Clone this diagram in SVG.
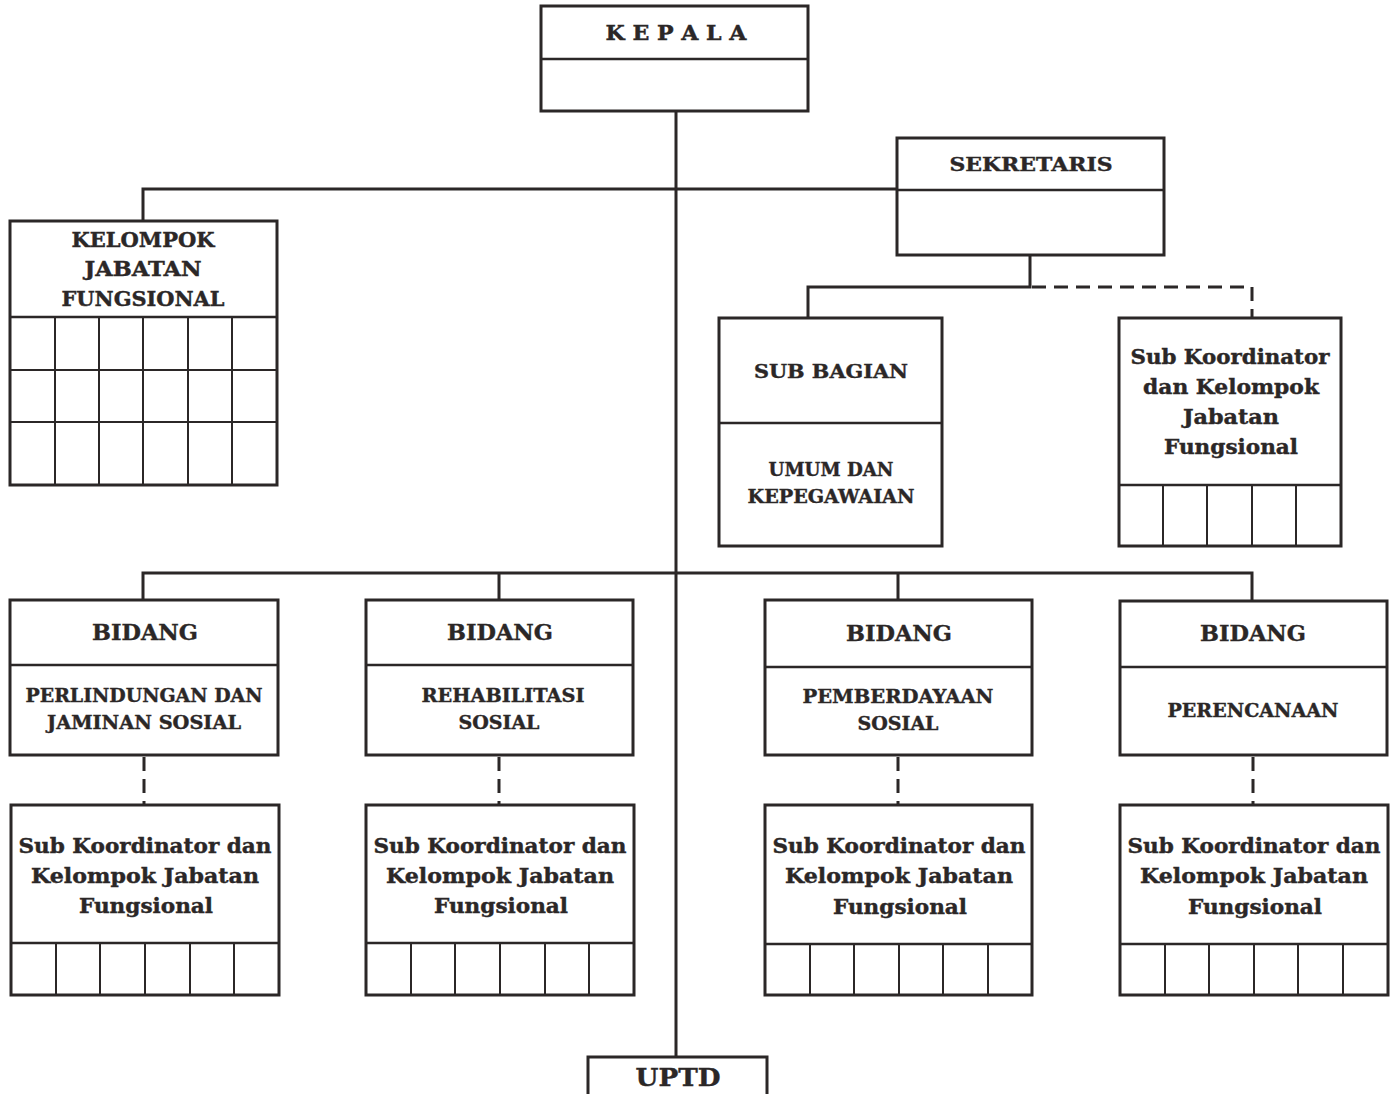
<svg xmlns="http://www.w3.org/2000/svg" width="1399" height="1094" viewBox="0 0 1399 1094">
<style>
.box{fill:none;stroke:#2b2727;stroke-width:3}
.div{stroke:#2b2727;stroke-width:2.5;fill:none}
.grid{stroke:#2b2727;stroke-width:2;fill:none}
.ln{stroke:#2b2727;stroke-width:3;fill:none}
.dash{stroke:#2b2727;stroke-width:3;fill:none;stroke-dasharray:14 8}
text{font-family:"DejaVu Serif","Liberation Serif",serif;font-weight:bold;fill:#2b2727;stroke:#2b2727;stroke-width:0.4;text-anchor:middle}
.t17{font-size:18px}.t19{font-size:19px}.t20{font-size:20px}.t22{font-size:22px}
</style>
<rect width="1399" height="1094" fill="#ffffff"/>
<g id="connectors">
<path class="ln" d="M676 111V1057"/>
<path class="ln" d="M143 221V189H897"/>
<path class="ln" d="M1030 255V287H808V318"/>
<path class="dash" d="M1032 287H1252V318"/>
<path class="ln" d="M143 600V573H1252V600M499 573V600M898 573V600"/>
<path class="dash" d="M144 757V805M499 757V805M898 757V805M1253 757V805"/>
</g>
<g id="kepala">
<rect class="box" x="541" y="6" width="267" height="105"/>
<path class="div" d="M541 59H808"/>
<text class="t20" x="676" y="40" textLength="141" lengthAdjust="spacingAndGlyphs">K E P A L A</text>
</g>
<g id="sekretaris">
<rect class="box" x="897" y="138" width="267" height="117"/>
<path class="div" d="M897 190H1164"/>
<text class="t19" x="1031" y="171" textLength="163" lengthAdjust="spacingAndGlyphs">SEKRETARIS</text>
</g>
<g id="kelompok-jabatan-fungsional">
<rect class="box" x="10" y="221" width="267" height="264"/>
<path class="div" d="M10 317H277"/>
<path class="grid" d="M10 370H277M10 422H277M55 317V485M99 317V485M143 317V485M188 317V485M232 317V485"/>
<text class="t20" x="143" y="247" textLength="143" lengthAdjust="spacingAndGlyphs">KELOMPOK</text>
<text class="t20" x="143" y="276" textLength="117" lengthAdjust="spacingAndGlyphs">JABATAN</text>
<text class="t20" x="143" y="306" textLength="163" lengthAdjust="spacingAndGlyphs">FUNGSIONAL</text>
</g>
<g id="sub-bagian">
<rect class="box" x="719" y="318" width="223" height="228"/>
<path class="div" d="M719 423H942"/>
<text class="t19" x="831" y="378" textLength="154" lengthAdjust="spacingAndGlyphs">SUB BAGIAN</text>
<text class="t17" x="831" y="476" textLength="125" lengthAdjust="spacingAndGlyphs">UMUM DAN</text>
<text class="t17" x="831" y="503" textLength="167" lengthAdjust="spacingAndGlyphs">KEPEGAWAIAN</text>
</g>
<g id="sekretaris-subkoordinator">
<rect class="box" x="1119" y="318" width="222" height="228"/>
<path class="div" d="M1119 485H1341"/>
<path class="grid" d="M1163 485V546M1207 485V546M1252 485V546M1296 485V546"/>
<text class="t20" x="1230" y="364" textLength="199" lengthAdjust="spacingAndGlyphs">Sub Koordinator</text>
<text class="t20" x="1231" y="394" textLength="176" lengthAdjust="spacingAndGlyphs">dan Kelompok</text>
<text class="t20" x="1231" y="424" textLength="96" lengthAdjust="spacingAndGlyphs">Jabatan</text>
<text class="t20" x="1231" y="454" textLength="134" lengthAdjust="spacingAndGlyphs">Fungsional</text>
</g>
<g id="bidang-perlindungan">
<rect class="box" x="10" y="600" width="268" height="155"/>
<path class="div" d="M10 665H278"/>
<text class="t22" x="145" y="640" textLength="106" lengthAdjust="spacingAndGlyphs">BIDANG</text>
<text class="t17" x="144" y="702" textLength="237" lengthAdjust="spacingAndGlyphs">PERLINDUNGAN DAN</text>
<text class="t17" x="144" y="729" textLength="194" lengthAdjust="spacingAndGlyphs">JAMINAN SOSIAL</text>
</g>
<g id="bidang-rehabilitasi">
<rect class="box" x="366" y="600" width="267" height="155"/>
<path class="div" d="M366 665H633"/>
<text class="t22" x="500" y="640" textLength="106" lengthAdjust="spacingAndGlyphs">BIDANG</text>
<text class="t17" x="503" y="702" textLength="163" lengthAdjust="spacingAndGlyphs">REHABILITASI</text>
<text class="t17" x="499" y="729" textLength="81" lengthAdjust="spacingAndGlyphs">SOSIAL</text>
</g>
<g id="bidang-pemberdayaan">
<rect class="box" x="765" y="600" width="267" height="155"/>
<path class="div" d="M765 667H1032"/>
<text class="t22" x="899" y="641" textLength="106" lengthAdjust="spacingAndGlyphs">BIDANG</text>
<text class="t17" x="898" y="703" textLength="191" lengthAdjust="spacingAndGlyphs">PEMBERDAYAAN</text>
<text class="t17" x="898" y="730" textLength="81" lengthAdjust="spacingAndGlyphs">SOSIAL</text>
</g>
<g id="bidang-perencanaan">
<rect class="box" x="1120" y="601" width="267" height="154"/>
<path class="div" d="M1120 667H1387"/>
<text class="t22" x="1253" y="641" textLength="106" lengthAdjust="spacingAndGlyphs">BIDANG</text>
<text class="t17" x="1253" y="717" textLength="171" lengthAdjust="spacingAndGlyphs">PERENCANAAN</text>
</g>
<g id="subkoordinator-1">
<rect class="box" x="11" y="805" width="268" height="190"/>
<path class="div" d="M11 943H279"/>
<path class="grid" d="M56 943V995M100 943V995M145 943V995M190 943V995M234 943V995"/>
<text class="t20" x="145" y="853" textLength="253" lengthAdjust="spacingAndGlyphs">Sub Koordinator dan</text>
<text class="t20" x="145" y="883" textLength="228" lengthAdjust="spacingAndGlyphs">Kelompok Jabatan</text>
<text class="t20" x="146" y="913" textLength="134" lengthAdjust="spacingAndGlyphs">Fungsional</text>
</g>
<g id="subkoordinator-2">
<rect class="box" x="366" y="805" width="268" height="190"/>
<path class="div" d="M366 943H634"/>
<text class="t20" x="500" y="853" textLength="253" lengthAdjust="spacingAndGlyphs">Sub Koordinator dan</text>
<path class="grid" d="M411 943V995M455 943V995M500 943V995M545 943V995M589 943V995"/>
<text class="t20" x="500" y="883" textLength="228" lengthAdjust="spacingAndGlyphs">Kelompok Jabatan</text>
<text class="t20" x="501" y="913" textLength="134" lengthAdjust="spacingAndGlyphs">Fungsional</text>
</g>
<g id="subkoordinator-3">
<rect class="box" x="765" y="805" width="267" height="190"/>
<path class="div" d="M765 944H1032"/>
<path class="grid" d="M810 944V995M854 944V995M899 944V995M943 944V995M988 944V995"/>
<text class="t20" x="899" y="853" textLength="253" lengthAdjust="spacingAndGlyphs">Sub Koordinator dan</text>
<text class="t20" x="899" y="883" textLength="228" lengthAdjust="spacingAndGlyphs">Kelompok Jabatan</text>
<text class="t20" x="900" y="914" textLength="134" lengthAdjust="spacingAndGlyphs">Fungsional</text>
</g>
<g id="subkoordinator-4">
<rect class="box" x="1120" y="805" width="268" height="190"/>
<path class="div" d="M1120 944H1388"/>
<path class="grid" d="M1165 944V995M1209 944V995M1254 944V995M1298 944V995M1343 944V995"/>
<text class="t20" x="1254" y="853" textLength="253" lengthAdjust="spacingAndGlyphs">Sub Koordinator dan</text>
<text class="t20" x="1254" y="883" textLength="228" lengthAdjust="spacingAndGlyphs">Kelompok Jabatan</text>
<text class="t20" x="1255" y="914" textLength="134" lengthAdjust="spacingAndGlyphs">Fungsional</text>
</g>
<g id="uptd">
<rect class="box" x="588" y="1057" width="179" height="40"/>
<text style="font-size:25px" x="678" y="1086" textLength="85" lengthAdjust="spacingAndGlyphs">UPTD</text>
</g>
</svg>
